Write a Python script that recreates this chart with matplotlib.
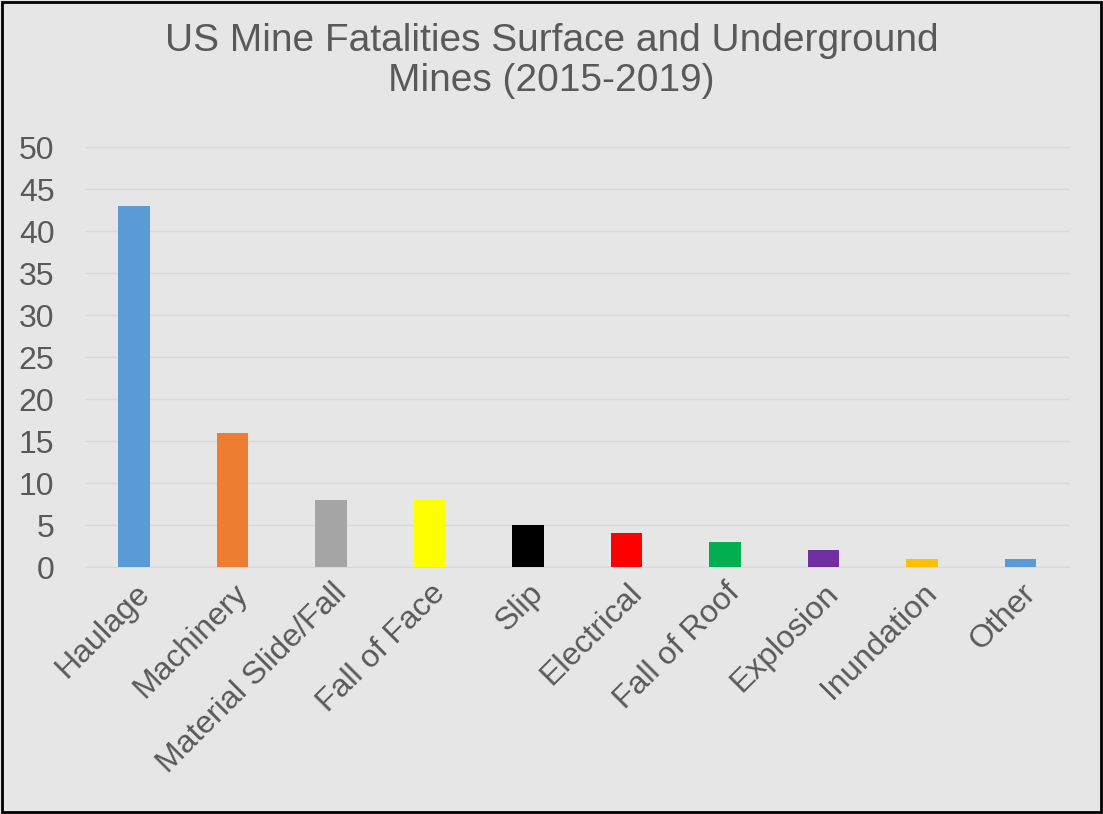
import matplotlib
matplotlib.use("Agg")
import matplotlib.pyplot as plt

categories = ["Haulage", "Machinery", "Material Slide/Fall", "Fall of Face", "Slip",
              "Electrical", "Fall of Roof", "Explosion", "Inundation", "Other"]
values = [43, 16, 8, 8, 5, 4, 3, 2, 1, 1]
colors = ["#5B9BD5", "#ED7D31", "#A5A5A5", "#FFFF00", "#000000",
          "#FF0000", "#00B050", "#7030A0", "#FFC000", "#5B9BD5"]
yticks = list(range(0, 51, 5))

plt.rcParams['font.family'] = ['Liberation Sans', 'DejaVu Sans']
bg = "#E7E6E6"
txt = "#595959"
fig = plt.figure(figsize=(11.03, 8.14), dpi=100, facecolor=bg)
fig.patches.append(plt.Rectangle((0.002, 0.002), 0.996, 0.996, transform=fig.transFigure,
                                 fill=False, edgecolor="black", linewidth=2))
ax = fig.add_axes([0.077, 0.3034, 0.893, 0.516])
ax.set_facecolor(bg)
x = range(len(categories))
ax.bar(x, values, width=0.32, color=colors, zorder=3)
ax.set_xlim(-0.5, len(categories) - 0.5)
ax.set_ylim(0, 50)
ax.set_yticks(yticks)
ax.grid(axis='y', color="#D9D9D9", linewidth=1, zorder=0)
for s in ax.spines.values():
    s.set_visible(False)
ax.spines['bottom'].set_visible(True)
ax.spines['bottom'].set_color("#D9D9D9")
ax.tick_params(length=0, labelsize=23, colors=txt)
ax.tick_params(axis='y', pad=22)
ax.set_xticks(list(x))
ax.set_xticklabels(categories, rotation=45, ha='right', rotation_mode='anchor')
ax.tick_params(axis='x', pad=8)
for lab in ax.get_xticklabels():
    lab.set_x(lab.get_position()[0])
fig.text(0.5, 0.925, "US Mine Fatalities Surface and Underground\nMines (2015-2019)",
         ha='center', va='center', fontsize=28, color=txt, linespacing=1.15)
fig.savefig("out.png", dpi=100, facecolor=bg)
